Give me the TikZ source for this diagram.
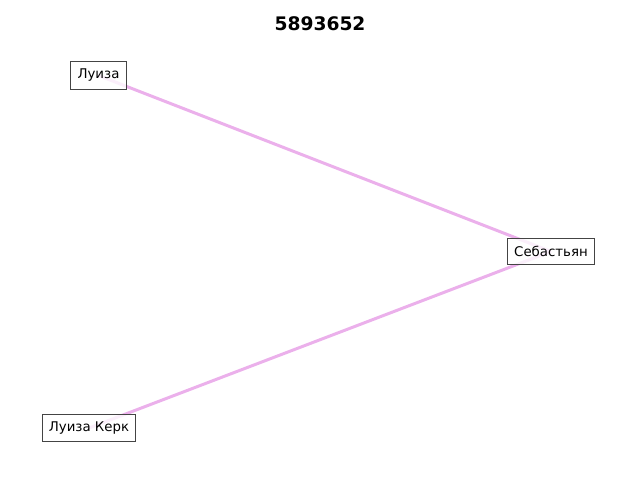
\documentclass[tikz,border=0pt]{standalone}
\usepackage{fontspec}
\setmainfont{DejaVu Sans}
\definecolor{edgecol}{RGB}{235,176,235}
\definecolor{boxcol}{RGB}{68,68,68}
\tikzset{
	person/.style={draw=boxcol,line width=0.75pt,fill=white,fill opacity=0.8,text opacity=1,inner xsep=5pt,inner ysep=5.5pt,font=\fontsize{10}{12}\selectfont},
	link/.style={edgecol,line width=2.25pt}
}
\begin{document}
\begin{tikzpicture}[x=0.75pt,y=0.75pt]
	\useasboundingbox (0,0) rectangle (640,480);
	\node[font=\fontsize{14}{16}\selectfont\bfseries] (title) at (320,456) {5893652};
	\path
	(98.5,404.5) coordinate (luiza)
	(551,228.5) coordinate (sebastian)
	(89,52) coordinate (kerk);
	%Vẽ các cạnh
	\foreach \a/\b in {luiza/sebastian,kerk/sebastian}
	\draw[link] (\a)--(\b);
	\node[person] (n1) at (luiza) {Луиза};
	\node[person] (n2) at (sebastian) {Себастьян};
	\node[person] (n3) at (kerk) {Луиза Керк};
\end{tikzpicture}
\end{document}
